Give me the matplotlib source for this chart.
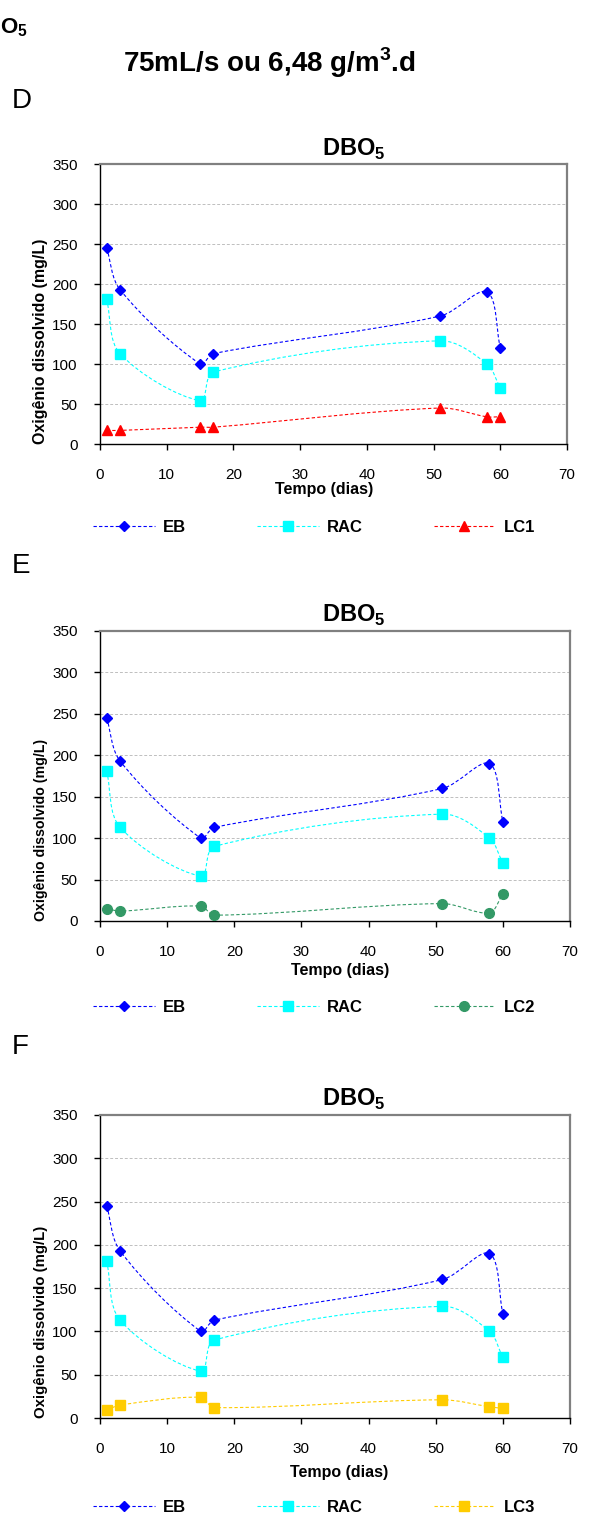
import matplotlib
matplotlib.use('Agg')
import matplotlib.pyplot as plt
from matplotlib.path import Path
from matplotlib.patches import PathPatch
from matplotlib.lines import Line2D
import numpy as np

plt.rcParams['font.family'] = ['Liberation Sans', 'DejaVu Sans']
plt.rcParams['mathtext.fontset'] = 'custom'
plt.rcParams['mathtext.rm'] = 'Liberation Sans'
plt.rcParams['mathtext.bf'] = 'Liberation Sans:bold'

# ---- data ----
dias = [1, 3, 15, 17, 51, 58, 60]
eb = [245, 193, 100, 113, 160, 190, 120]
rac = [181, 113, 54, 90, 129, 100, 70]
lc1 = [17, 17, 21, 21, 45, 34, 34]
lc2 = [15, 12, 18, 7, 21, 10, 33]
lc3 = [9, 15, 24, 12, 21, 13, 11]

panel_letters = ['D', 'E', 'F']
lc_names = ['LC1', 'LC2', 'LC3']
lc_values = [lc1, lc2, lc3]
x_ticks = [0, 10, 20, 30, 40, 50, 60, 70]
y_ticks = [0, 50, 100, 150, 200, 250, 300, 350]

# ---- styles / layout (pixels) ----
W, H = 591, 1517
fig = plt.figure(figsize=(W / 100, H / 100), dpi=100)


def fx(px):
    return px / W


def fy(py):
    return 1 - py / H


boxes = [(100, 164, 567, 444), (100, 631, 570, 921), (100, 1115, 570, 1418)]
letter_base = [108, 573, 1054]
title_base = [156, 622, 1106]
title_x = [354, 354, 354]
xlabel_top = [482, 963, 1465]
xlabel_x = [324, 340, 339]
ylabel_size = [11.5, 10.2, 10.8]
legend_y = [527, 1007, 1507]
lc_colors = ['#FF0000', '#339966', '#FFCC00']
lc_markers = ['^', 'o', 's']
EB_C = '#0000FF'
RAC_C = '#00FFFF'
DASH = (0, (3, 2))


def smooth_path(ax, xs, ys):
    pts = ax.transData.transform(np.column_stack([xs, ys]).astype(float))
    n = len(pts)
    d = np.hypot(*np.diff(pts, axis=0).T)
    verts = [pts[0]]
    codes = [Path.MOVETO]
    for i in range(n - 1):
        p0 = pts[i - 1] if i > 0 else pts[i]
        p1 = pts[i]
        p2 = pts[i + 1]
        p3 = pts[i + 2] if i + 2 < n else pts[i + 1]
        dprev = d[i - 1] if i > 0 else 0.0
        dnext = d[i + 1] if i + 1 < n - 1 else 0.0
        c1 = p1 + (p2 - p0) * d[i] / (dprev + d[i]) / 3.0
        c2 = p2 - (p3 - p1) * d[i] / (d[i] + dnext) / 3.0
        verts += [c1, c2, p2]
        codes += [Path.CURVE4] * 3
    verts = ax.transData.inverted().transform(np.array(verts))
    return Path(verts, codes)


def draw_series(ax, xs, ys, color, marker, ms):
    path = smooth_path(ax, xs, ys)
    ax.add_patch(PathPatch(path, facecolor='none', edgecolor=color, lw=0.8,
                           linestyle=DASH, zorder=3))
    ax.plot(xs, ys, ls='none', marker=marker, ms=ms, color=color,
            markeredgecolor=color, zorder=4)


# partially visible heading at the very left edge (cut in the reference)
fig.text(fx(0), fy(33), r'O$_\mathbf{5}$', ha='left', va='baseline',
         fontsize=16, weight='bold')
fig.text(fx(269), fy(72), r'75mL/s ou 6,48 g/m$^\mathbf{3}$.d', ha='center',
         va='baseline', fontsize=20, weight='bold')

for k in range(3):
    l, t, r, b = boxes[k]
    ax = fig.add_axes([fx(l), fy(b), (r - l) / W, (b - t) / H])
    ax.set_xlim(0, 70)
    ax.set_ylim(0, 350)
    ax.set_xticks(x_ticks)
    ax.set_yticks(y_ticks)
    ax.tick_params(axis='both', direction='out', length=4, width=1,
                   color='black', labelsize=11)
    ax.tick_params(axis='x', pad=13.5)
    ax.tick_params(axis='y', pad=12)
    for s in ['left', 'bottom']:
        ax.spines[s].set_color('black')
        ax.spines[s].set_linewidth(1.0)
    for s in ['top', 'right']:
        ax.spines[s].set_color('#808080')
        ax.spines[s].set_linewidth(1.6)
    ax.yaxis.grid(True, color='#BFBFBF', linestyle=DASH, lw=0.7)
    ax.set_axisbelow(True)

    draw_series(ax, dias, eb, EB_C, 'D', 5.5)
    draw_series(ax, dias, rac, RAC_C, 's', 7)
    draw_series(ax, dias, lc_values[k], lc_colors[k], lc_markers[k], 7)

    fig.text(fx(12), fy(letter_base[k]), panel_letters[k], ha='left',
             va='baseline', fontsize=20)
    fig.text(fx(title_x[k]), fy(title_base[k]), r'DBO$_\mathbf{5}$',
             ha='center', va='baseline', fontsize=17, weight='bold')
    fig.text(fx(xlabel_x[k]), fy(xlabel_top[k]), 'Tempo (dias)', ha='center',
             va='top', fontsize=11.5, weight='bold')
    fig.text(fx(41), fy(b), 'Oxigênio dissolvido (mg/L)', rotation=90,
             ha='center', va='bottom', fontsize=ylabel_size[k], weight='bold')

    handles = [
        Line2D([], [], color=EB_C, ls=DASH, lw=0.8, marker='D', ms=5.5),
        Line2D([], [], color=RAC_C, ls=DASH, lw=0.8, marker='s', ms=7),
        Line2D([], [], color=lc_colors[k], ls=DASH, lw=0.8,
               marker=lc_markers[k], ms=7),
    ]
    fig.legend(handles, ['EB', 'RAC', lc_names[k]], loc='center left',
               bbox_to_anchor=(fx(93), fy(legend_y[k])), ncol=3,
               frameon=False, handlelength=3.7, handletextpad=0.5,
               columnspacing=4.25, borderpad=0, borderaxespad=0,
               prop={'weight': 'bold', 'size': 12})

fig.savefig('out.png', dpi=100)
